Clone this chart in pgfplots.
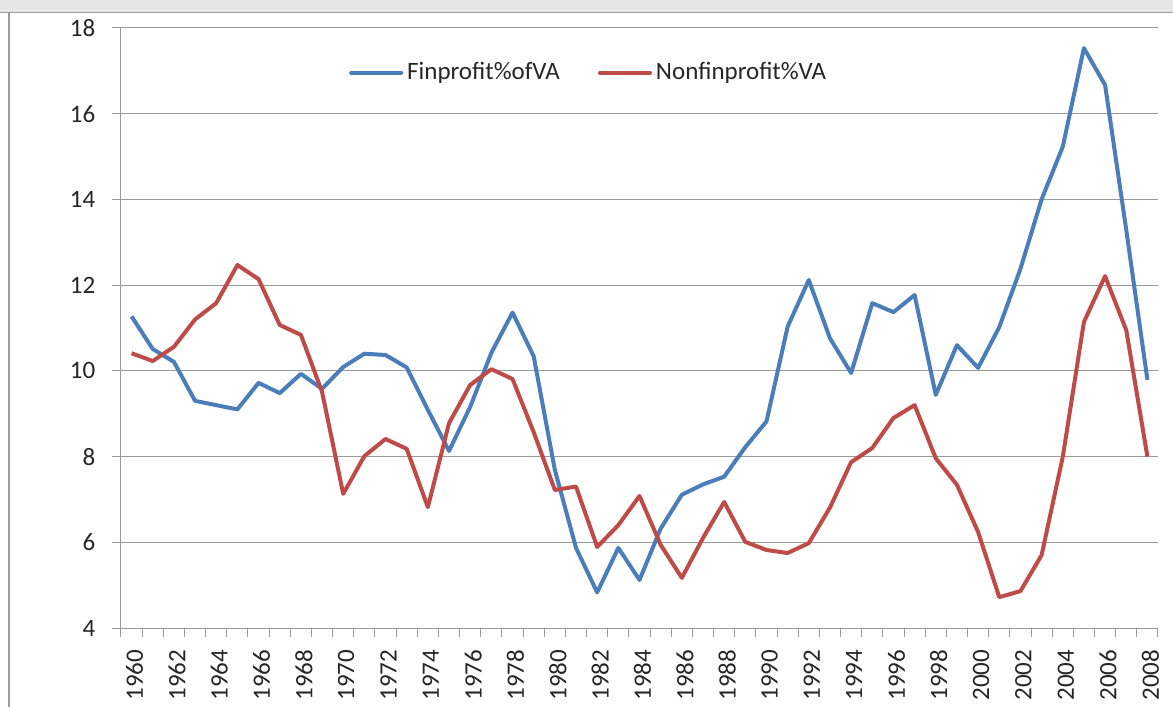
\documentclass[border=0pt]{standalone}
\usepackage{fontspec}
\setmainfont{Carlito}
\usepackage{pgfplots}
\pgfplotsset{compat=1.18}
\definecolor{finblue}{HTML}{4A7EBB}
\definecolor{nonred}{HTML}{BE4B48}
\definecolor{gridgray}{HTML}{9A9A9A}
\definecolor{bandgray}{HTML}{E6E6E6}

\pgfplotstableread{
year fin non
1960 11.27 10.41
1961 10.51 10.23
1962 10.21 10.56
1963 9.30 11.20
1964 9.20 11.58
1965 9.10 12.47
1966 9.72 12.14
1967 9.48 11.07
1968 9.93 10.84
1969 9.58 9.51
1970 10.09 7.13
1971 10.40 8.01
1972 10.37 8.41
1973 10.08 8.18
1974 9.09 6.82
1975 8.13 8.78
1976 9.16 9.67
1977 10.42 10.04
1978 11.36 9.81
1979 10.34 8.57
1980 7.69 7.22
1981 5.87 7.30
1982 4.83 5.89
1983 5.87 6.40
1984 5.12 7.08
1985 6.32 5.94
1986 7.11 5.17
1987 7.35 6.10
1988 7.53 6.94
1989 8.22 6.01
1990 8.82 5.82
1991 11.03 5.75
1992 12.12 5.98
1993 10.76 6.81
1994 9.95 7.87
1995 11.58 8.20
1996 11.37 8.90
1997 11.77 9.20
1998 9.44 7.96
1999 10.60 7.34
2000 10.07 6.24
2001 11.02 4.72
2002 12.38 4.86
2003 14.00 5.70
2004 15.23 7.99
2005 17.53 11.14
2006 16.67 12.21
2007 13.29 10.95
2008 9.79 8.00
}\data

\begin{document}
\fontsize{12.5}{15}\selectfont
\begin{tikzpicture}
\useasboundingbox (-60.5pt,-39.5pt) rectangle (526pt,314pt);
\fill[bandgray] (-60.5pt,307.8pt) rectangle (526pt,314pt);
\draw[gridgray, line width=0.7pt] (-60.5pt,307.8pt) -- (526pt,307.8pt);
\draw[gridgray, line width=1pt] (-56.2pt,-39.5pt) -- (-56.2pt,307.8pt);
\begin{axis}[
  at={(0pt,0pt)}, anchor=south west, scale only axis,
  width=518.5pt, height=300pt,
  xmin=1959.5, xmax=2008.5, ymin=4, ymax=18,
  ytick={4,6,...,18},
  ymajorgrids, grid style={gridgray, line width=0.5pt},
  axis x line*=bottom, axis y line*=left,
  axis line style={-, gridgray, line width=0.5pt},
  tick style={gridgray, line width=0.5pt},
  tick align=outside, major tick length=4.5pt,
  xtick={1959.5,1960.5,...,2008.6},
  xticklabels={},
  extra x ticks={1960,1962,...,2008},
  extra x tick style={major tick length=0pt, grid=none,
    tick label style={rotate=90, anchor=east, xshift=-6.5pt, yshift=-1.5pt}},
  /pgf/number format/assume math mode=true,
  /pgf/number format/set thousands separator={},
  yticklabel style={xshift=-4pt},
  tick label style={font=\fontsize{12.5}{15}\selectfont, text=black!85},
  legend style={at={(0.452,0.9255)}, anchor=center, draw=none, fill=none,
    font=\fontsize{12.5}{15}\selectfont, text=black!85,
    legend columns=2, /tikz/every even column/.append style={column sep=17pt},
    inner sep=0pt},
  legend image code/.code={\draw[#1, line cap=round] (0pt,0pt) -- (25pt,0pt);},
  legend cell align=left,
]
\addplot[finblue, line width=2pt, line join=round] table[x=year, y=fin] {\data};
\addlegendentry{Finprofit\%ofVA}
\addplot[nonred, line width=2pt, line join=round] table[x=year, y=non] {\data};
\addlegendentry{Nonfinprofit\%VA}
\end{axis}
\end{tikzpicture}
\end{document}
